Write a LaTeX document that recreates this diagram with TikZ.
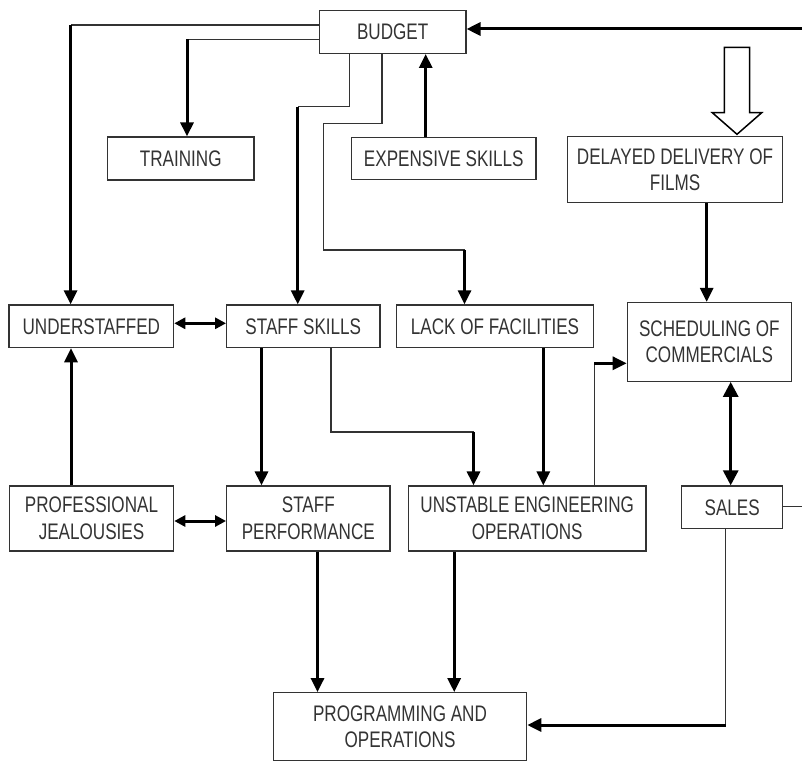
\documentclass[tikz,border=0pt]{standalone}
\usepackage{fontspec}
\setmainfont{Liberation Sans}[FakeStretch=0.76]
\usetikzlibrary{arrows.meta}
\definecolor{ink}{HTML}{333333}
\begin{document}
\begin{tikzpicture}[x=1pt,y=-1pt,
 box/.style={draw=ink, line width=1.2pt, text=ink, inner sep=0pt, align=center,
   font=\fontsize{22.5}{26.7}\selectfont},
 thinln/.style={draw=ink, line width=1.2pt},
 thk/.style={draw=black, line width=3pt, -{Triangle[width=13pt,length=14pt]}},
 dbl/.style={draw=black, line width=3pt,
   {Triangle[width=11pt,length=11pt]}-{Triangle[width=11pt,length=11pt]}},
 dblbig/.style={draw=black, line width=3pt,
   {Triangle[width=15pt,length=15pt]}-{Triangle[width=15pt,length=15pt]}},
]
\useasboundingbox (0,0) rectangle (802,762);

% boxes
\node[box, minimum width=146.5pt, minimum height=42.8pt] (budget) at (392.7,32) {BUDGET};
\node[box, minimum width=146.5pt, minimum height=43pt] (training) at (180.7,158.5) {TRAINING};
\node[box, minimum width=184.3pt, minimum height=42pt] (expensive) at (443.8,158.3) {EXPENSIVE SKILLS};
\node[box, minimum width=215.4pt, minimum height=66pt] (delayed) at (675,169.7) {DELAYED DELIVERY OF\\FILMS};
\node[box, minimum width=164.7pt, minimum height=42.7pt] (under) at (91.3,326.3) {UNDERSTAFFED};
\node[box, minimum width=153.3pt, minimum height=42.7pt] (skills) at (303.3,326.3) {STAFF SKILLS};
\node[box, minimum width=196.6pt, minimum height=42.7pt] (lack) at (495,326.3) {LACK OF FACILITIES};
\node[box, minimum width=164pt, minimum height=78.8pt] (sched) at (709.3,341.9) {SCHEDULING OF\\COMMERCIALS};
\node[box, minimum width=164.4pt, minimum height=65pt] (profj) at (91.5,518.5) {PROFESSIONAL\\JEALOUSIES};
\node[box, minimum width=163.3pt, minimum height=65pt] (perf) at (308.3,518.5) {STAFF\\PERFORMANCE};
\node[box, minimum width=237.7pt, minimum height=65pt] (ueo) at (527.2,518.5) {UNSTABLE ENGINEERING\\OPERATIONS};
\node[box, minimum width=101pt, minimum height=42.7pt] (sales) at (732.2,507.3) {SALES};
\node[box, minimum width=253.4pt, minimum height=68pt] (prog) at (400,726.7) {PROGRAMMING AND\\OPERATIONS};

% bend / edge points
\coordinate (c1) at (70.6,25);
\coordinate (c2) at (187,39.3);
\coordinate (c3a) at (349.3,106.7);
\coordinate (c3b) at (297.7,106.7);
\coordinate (c4a) at (382,123.3);
\coordinate (c4b) at (323.3,123.3);
\coordinate (c4c) at (323.3,250);
\coordinate (c4d) at (464.5,250);
\coordinate (ex) at (425.7,0);
\coordinate (redge1) at (802,29);
\coordinate (dl) at (706.7,0);
\coordinate (uy) at (0,323.3);
\coordinate (px) at (71,0);
\coordinate (sp) at (261.5,0);
\coordinate (c12a) at (331,432);
\coordinate (c12b) at (473.5,432);
\coordinate (lk) at (543.3,0);
\coordinate (c14) at (594.3,363.3);
\coordinate (ss) at (730.7,0);
\coordinate (py) at (0,521);
\coordinate (redge2) at (802,506.7);
\coordinate (pf) at (317.5,0);
\coordinate (ub) at (454.2,0);
\coordinate (c20) at (725.7,725);

% budget -> understaffed
\draw[thinln] (c1 -| budget.west) -- (c1);
\draw[thk] (c1) -- (c1 |- under.north);
% budget -> training
\draw[thinln] (c2 -| budget.west) -- (c2);
\draw[thk] (c2) -- (c2 |- training.north);
% budget -> staff skills
\draw[thinln] (c3a |- budget.south) -- (c3a) -- (c3b);
\draw[thk] (c3b) -- (c3b |- skills.north);
% budget -> lack of facilities
\draw[thinln] (c4a |- budget.south) -- (c4a) -- (c4b) -- (c4c) -- (c4d);
\draw[thk] (c4d) -- (c4d |- lack.north);
% expensive skills -> budget
\draw[thk] (ex |- expensive.north) -- (ex |- budget.south);
% right edge -> budget
\draw[thk] (redge1) -- (redge1 -| budget.east);
% hollow arrow into delayed delivery
\draw[line width=1.5pt, line join=miter] (724.3,47.3) -- (749.7,47.3) -- (749.7,112.7) -- (761.7,112.7)
  -- (737,134.3) -- (712.3,112.7) -- (724.3,112.7) -- cycle;
% delayed -> scheduling
\draw[thk] (dl |- delayed.south) -- (dl |- sched.north);
% understaffed <-> staff skills
\draw[dbl] (uy -| under.east) -- (uy -| skills.west);
% professional jealousies -> understaffed
\draw[thk] (px |- profj.north) -- (px |- under.south);
% staff skills -> staff performance
\draw[thk] (sp |- skills.south) -- (sp |- perf.north);
% staff skills -> unstable engineering
\draw[thinln] (c12a |- skills.south) -- (c12a) -- (c12b);
\draw[thk] (c12b) -- (c12b |- ueo.north);
% lack of facilities -> unstable engineering
\draw[thk] (lk |- lack.south) -- (lk |- ueo.north);
% unstable engineering -> scheduling
\draw[thinln] (c14 |- ueo.north) -- (c14);
\draw[thk] (c14) -- (c14 -| sched.west);
% scheduling <-> sales
\draw[dblbig] (ss |- sched.south) -- (ss |- sales.north);
% professional jealousies <-> staff performance
\draw[dbl] (py -| profj.east) -- (py -| perf.west);
% sales -> right edge
\draw[thinln] (redge2 -| sales.east) -- (redge2);
% staff performance -> programming
\draw[thk] (pf |- perf.south) -- (pf |- prog.north);
% unstable engineering -> programming
\draw[thk] (ub |- ueo.south) -- (ub |- prog.north);
% sales -> programming
\draw[thinln] (c20 |- sales.south) -- (c20);
\draw[thk] (c20) -- (c20 -| prog.east);
\end{tikzpicture}
\end{document}
